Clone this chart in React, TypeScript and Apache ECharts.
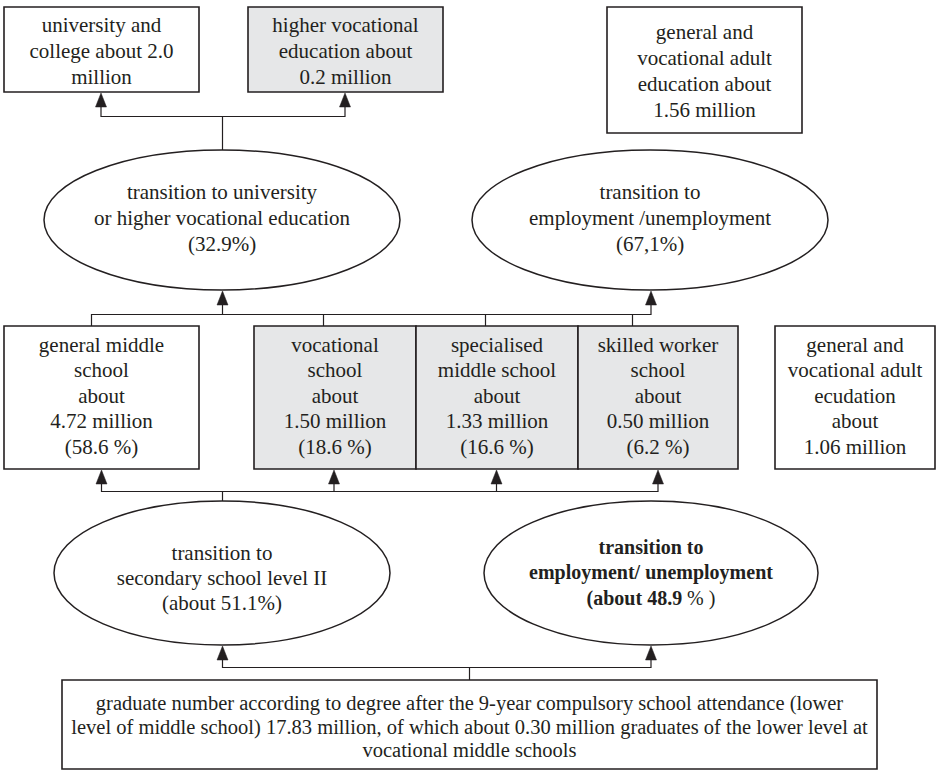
import React, { useEffect, useRef } from "react";
import * as echarts from "echarts";

// ---- content (labels) ----
const topBoxLabels: string[][] = [
  ["university and", "college about 2.0", "million"],
  ["higher vocational", "education about", "0.2 million"],
  ["general and", "vocational adult", "education about", "1.56 million"],
];
const topBoxShaded = [false, true, false];

const upperTransitionLabels: string[][] = [
  ["transition to university", "or higher vocational education", "(32.9%)"],
  ["transition to", "employment /unemployment", "(67,1%)"],
];

const secondarySchoolNames: string[][] = [
  ["general middle", "school"],
  ["vocational", "school"],
  ["specialised", "middle school"],
  ["skilled worker", "school"],
];
const secondaryMillions = ["4.72", "1.50", "1.33", "0.50"];
const secondaryShares = ["58.6", "18.6", "16.6", "6.2"];
const secondaryShaded = [false, true, true, true];
const adultSecondaryLabel = ["general and", "vocational adult", "ecudation", "about", "1.06 million"];

const lowerTransitionLabel = ["transition to", "secondary school level II", "(about 51.1%)"];
const lowerEmploymentLabel = ["transition to", "employment/ unemployment"];
const lowerEmploymentShare = "48.9";

const graduateLabel = [
  "graduate number according to degree after the 9-year compulsory school attendance (lower",
  "level of middle school) 17.83 million, of which about 0.30 million graduates of the lower level at",
  "vocational middle schools",
];

// ---- styling ----
const INK = "#231f20";
const SHADE = "#e6e7e8";
const FAMILY = "Liberation Serif";
const SIZE = 21;

function box(x: number, y: number, w: number, h: number, shaded: boolean) {
  return {
    type: "rect",
    shape: { x, y, width: w, height: h },
    style: { fill: shaded ? SHADE : "#ffffff", stroke: INK, lineWidth: 1.6 },
  };
}
function oval(cx: number, cy: number, rx: number, ry: number) {
  return {
    type: "ellipse",
    shape: { cx, cy, rx, ry },
    style: { fill: "#ffffff", stroke: INK, lineWidth: 1.5 },
  };
}
function textLines(
  cx: number,
  cy: number,
  arr: string[],
  lh: number,
  size = SIZE,
  weight = "normal"
) {
  const n = arr.length;
  return arr.map((t, i) => ({
    type: "text",
    x: cx,
    y: cy + (i - (n - 1) / 2) * lh,
    style: {
      text: t,
      fontFamily: FAMILY,
      fontSize: size,
      fontWeight: weight,
      fill: INK,
      align: "center",
      verticalAlign: "middle",
    },
  }));
}
function poly(points: number[][]) {
  return {
    type: "polyline",
    shape: { points },
    style: { stroke: INK, lineWidth: 1.2, fill: null },
  };
}
function arrow(x: number, tipY: number) {
  return {
    type: "polygon",
    shape: { points: [[x, tipY], [x - 5.5, tipY + 14], [x + 5.5, tipY + 14]] },
    style: { fill: INK, stroke: INK, lineWidth: 0.5 },
  };
}

export default function App() {
  const ref = useRef<HTMLDivElement>(null);
  useEffect(() => {
    if (!ref.current) return;
    const chart = echarts.init(ref.current, undefined, { renderer: "svg" });

    const els: any[] = [];

    // top row boxes
    const topPos = [
      { x: 4, y: 7, w: 195, h: 85 },
      { x: 248, y: 7, w: 195, h: 85 },
      { x: 607, y: 7, w: 195, h: 126 },
    ];
    topPos.forEach((p, i) => {
      els.push(box(p.x, p.y, p.w, p.h, topBoxShaded[i]));
      els.push(...textLines(p.x + p.w / 2, p.y + p.h / 2 + 1, topBoxLabels[i], 26));
    });

    // connector from upper-left ellipse to top boxes
    els.push(poly([[101, 107], [101, 116.5], [345, 116.5], [345, 107]]));
    els.push(poly([[222.5, 116.5], [222.5, 150]]));
    els.push(arrow(101, 93), arrow(345, 93));

    // upper ellipses
    const upperE = [
      { cx: 222, cy: 220 },
      { cx: 650, cy: 220 },
    ];
    upperE.forEach((e, i) => {
      els.push(oval(e.cx, e.cy, 178, 70));
      els.push(...textLines(e.cx, e.cy - 2.5, upperTransitionLabels[i], 26));
    });

    // connector from secondary boxes to upper ellipses
    els.push(poly([[91.5, 326], [91.5, 314.5], [651, 314.5], [651, 305]]));
    [323.5, 485.5, 632.5].forEach((x) => els.push(poly([[x, 314.5], [x, 326]])));
    els.push(poly([[222.5, 305], [222.5, 314.5]]));
    els.push(arrow(222.5, 291), arrow(651, 291));

    // secondary level boxes
    const secPos = [
      { x: 4, w: 195 },
      { x: 254, w: 162 },
      { x: 416, w: 162 },
      { x: 578, w: 160 },
    ];
    secPos.forEach((p, i) => {
      els.push(box(p.x, 326, p.w, 143, secondaryShaded[i]));
      const lbl = [
        ...secondarySchoolNames[i],
        "about",
        `${secondaryMillions[i]} million`,
        `(${secondaryShares[i]} %)`,
      ];
      els.push(...textLines(p.x + p.w / 2, 395.5, lbl, 25.5));
    });
    els.push(box(775, 326, 160, 143, false));
    els.push(...textLines(855, 395.5, adultSecondaryLabel, 25.5));

    // connector from lower ellipse to secondary boxes
    els.push(poly([[101.5, 483], [101.5, 491.5], [658, 491.5], [658, 483]]));
    [334, 496.5].forEach((x) => els.push(poly([[x, 483], [x, 491.5]])));
    els.push(poly([[222.5, 491.5], [222.5, 502]]));
    [101.5, 334, 496.5, 658].forEach((x) => els.push(arrow(x, 470)));

    // lower ellipses
    els.push(oval(222, 573, 168, 72));
    els.push(...textLines(222, 577.5, lowerTransitionLabel, 25));
    els.push(oval(651, 573, 167, 72));
    els.push(...textLines(651, 559.5, lowerEmploymentLabel, 25, 20, "bold"));
    els.push({
      type: "text",
      x: 651,
      y: 597.5,
      style: {
        text: `{b|(about ${lowerEmploymentShare}} {r|% )}`,
        align: "center",
        verticalAlign: "middle",
        fill: INK,
        fontFamily: FAMILY,
        fontSize: 20,
        rich: {
          b: { fontFamily: FAMILY, fontSize: 20, fontWeight: "bold", fill: INK },
          r: { fontFamily: FAMILY, fontSize: 20, fontWeight: "normal", fill: INK },
        },
      },
    });

    // connector from graduate box to lower ellipses
    els.push(poly([[222.5, 660], [222.5, 667.5], [651, 667.5], [651, 660]]));
    els.push(poly([[469.5, 667.5], [469.5, 680]]));
    els.push(arrow(222.5, 646), arrow(651, 646));

    // graduate box
    els.push(box(62, 680, 815, 89, false));
    els.push(...textLines(469.5, 726.5, graduateLabel, 23.5, 20.5));

    chart.setOption({
      animation: false,
      backgroundColor: "#ffffff",
      graphic: { elements: els },
    });
    return () => chart.dispose();
  }, []);

  return (
    <div
      ref={ref}
      style={{ position: "fixed", left: 0, top: 0, width: 937, height: 771, background: "#fff" }}
    />
  );
}
